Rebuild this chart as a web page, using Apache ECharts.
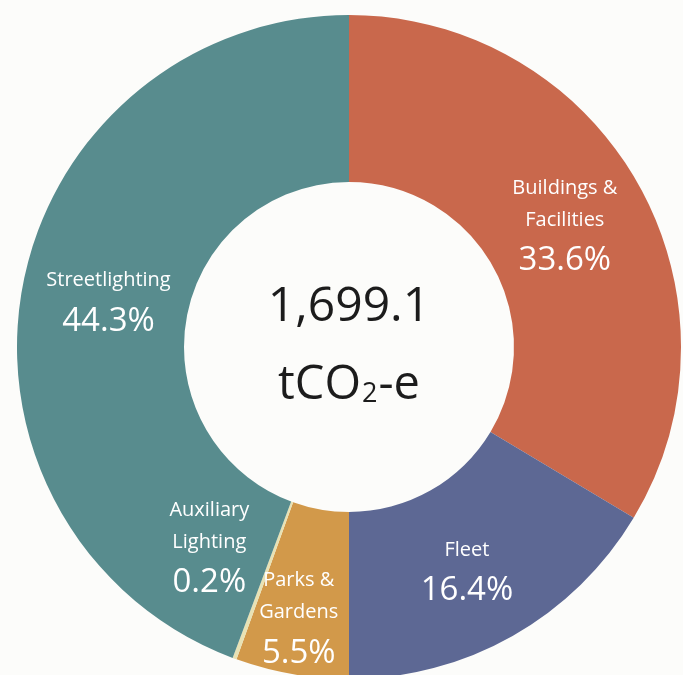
<!DOCTYPE html>
<html><head><meta charset="utf-8">
<script src="https://cdn.jsdelivr.net/npm/echarts@6/dist/echarts.min.js"></script>
<style>html,body{margin:0;padding:0;background:#fcfcfa;}#c{width:683px;height:675px;}</style>
</head><body><div id="c"></div>
<script>
const categories = ['Buildings &\nFacilities', 'Fleet', 'Parks &\nGardens', 'Auxiliary\nLighting', 'Streetlighting'];
const shares = [33.6, 16.4, 5.5, 0.2, 44.3];
const colors = ['#c9684c', '#5d6894', '#d2994a', '#e8e2b4', '#588c8e'];
const labelOffsets = [[-3,6],[-6,9],[-7,27],[-53,-32],[7,3]];
const totalValue = '1,699.1';
const unitMain = 'tCO';
const unitSub = '2';
const unitTail = '-e';

const chart = echarts.init(document.getElementById('c'));
const font = '"Open Sans", "Noto Sans", sans-serif';
chart.setOption({
  backgroundColor: '#fcfcfa',
  animation: false,
  graphic: [{
    type: 'text', x: 349, y: 307,
    style: {
      text: totalValue, align: 'center', verticalAlign: 'middle',
      fontFamily: font, fontSize: 48, fill: '#1c1c1c'
    }
  }, {
    type: 'text', x: 349, y: 386,
    style: {
      text: '{b|' + unitMain + '}{s|' + unitSub + '}{b|' + unitTail + '}',
      align: 'center', verticalAlign: 'middle',
      rich: {
        b: {fontFamily: font, fontSize: 47, lineHeight: 60, fill: '#1c1c1c', verticalAlign: 'middle'},
        s: {fontFamily: font, fontSize: 27, lineHeight: 60, fill: '#1c1c1c', verticalAlign: 'middle', padding: [16, 1, 0, 1]}
      }
    }
  }],
  series: [{
    type: 'pie',
    center: [349, 347],
    radius: [165, 332],
    startAngle: 90,
    clockwise: true,
    avoidLabelOverlap: false,
    label: {
      show: true,
      position: 'inside',
      color: '#ffffff',
      formatter: p => '{n|' + p.name.split('\n').join('}\n{n|') + '}\n{p|' + p.value.toFixed(1) + '%}',
      rich: {
        n: {fontFamily: font, fontSize: 20, lineHeight: 32, color: '#fff', align: 'center'},
        p: {fontFamily: font, fontSize: 33, lineHeight: 50, color: '#fff', align: 'center'}
      }
    },
    labelLine: {show: false},
    data: categories.map((c, i) => ({
      name: c, value: shares[i],
      itemStyle: {color: colors[i]},
      label: {offset: labelOffsets[i]}
    }))
  }]
});
</script></body></html>
